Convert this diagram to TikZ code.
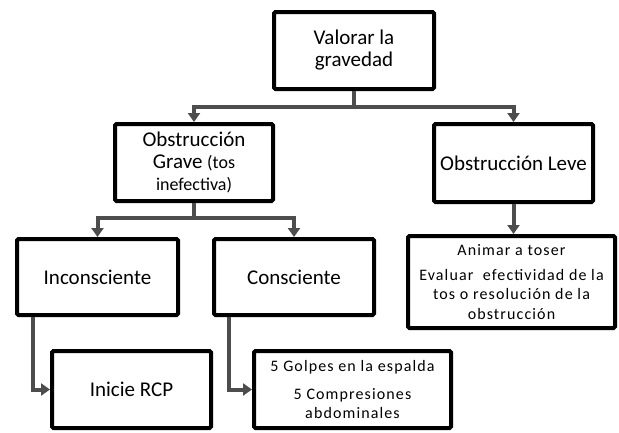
\documentclass[tikz,border=0pt]{standalone}
\usepackage{fontspec}
\setmainfont{Carlito}
\newfontfamily\smallfont[LetterSpace=7]{Carlito}
\usetikzlibrary{arrows.meta}
\definecolor{linkgray}{HTML}{4D4D4D}
\newcommand{\boxfont}{\fontsize{21}{22}\selectfont}
\newcommand{\notefont}{\smallfont\fontsize{16}{19.5}\selectfont}

\begin{document}
\begin{tikzpicture}[x=1pt, y=-1pt,
    box/.style={draw, line width=4pt, rounded corners=1.5pt, align=center, inner sep=0pt, font=\boxfont},
    link/.style={draw=linkgray, line width=4pt, -{Triangle[width=12pt,length=9pt]}, color=linkgray}]
         \useasboundingbox (0, 0) rectangle (619, 432);
         \node [box, minimum width=160pt, minimum height=77pt] (VG) at (354, 50.5) {Valorar la\\gravedad};
         \node [box, minimum width=158pt, minimum height=77pt] (OG) at (194, 162.5) {Obstrucción\\Grave {\fontsize{18}{22}\selectfont(tos}\\{\fontsize{18}{20}\selectfont inefectiva)}};
         \node [box, minimum width=159pt, minimum height=78pt] (OL) at (513.5, 163) {Obstrucción Leve};
         \node [box, minimum width=161pt, minimum height=76pt] (IC) at (97.5, 277) {Inconsciente};
         \node [box, minimum width=160pt, minimum height=76pt] (CO) at (294, 277) {Consciente};
         \node [box, minimum width=207pt, minimum height=92pt, font=\notefont] (AT) at (511.5, 282) {Animar a toser\\[5pt]Evaluar \ efectividad de la\\tos o resolución de la\\obstrucción};
         \node [box, minimum width=159pt, minimum height=77pt] (RCP) at (131.5, 389.5) {Inicie RCP};
         \node [box, minimum width=197pt, minimum height=77pt, font=\notefont] (GE) at (352.5, 389.5) {5 Golpes en la espalda\\[8pt]5 Compresiones\\abdominales};
         \draw [link] (VG.south) -- ++(0, 16) -| (OG.north);
         \draw [link] (VG.south) -- ++(0, 16) -| (OL.north);
         \draw [link] (OG.south) -- ++(0, 15) -| (IC.north);
         \draw [link] (OG.south) -- ++(0, 15) -| (CO.north);
         \draw [link] (OL.south) -- (OL.south |- AT.north);
         \draw [link] ([xshift=18pt]IC.south west) |- (RCP.west);
         \draw [link] ([xshift=17pt]CO.south west) |- (GE.west);
\end{tikzpicture}
\end{document}
